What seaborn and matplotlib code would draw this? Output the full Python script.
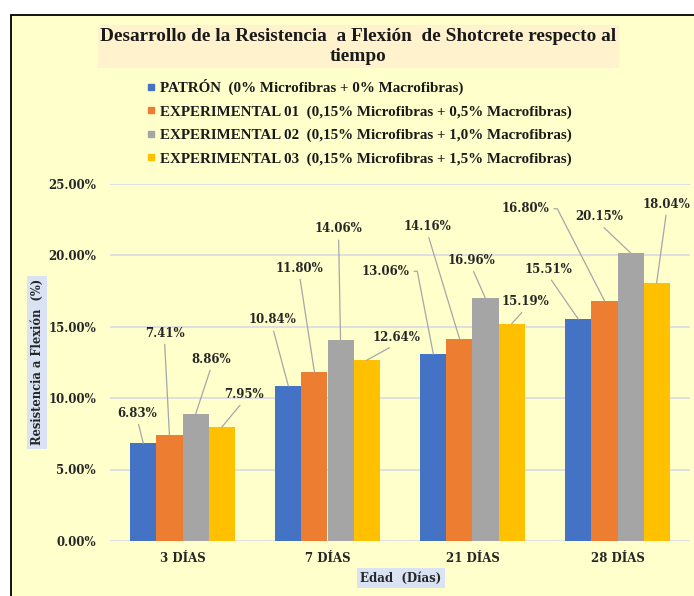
import matplotlib
matplotlib.use("Agg")
import matplotlib.pyplot as plt
from matplotlib.lines import Line2D
from matplotlib.patches import Rectangle
import pandas as pd
import seaborn as sns

# Datos del grafico
edades = ["3 DÍAS", "7 DÍAS", "21 DÍAS", "28 DÍAS"]
series = [
    "PATRÓN  (0% Microfibras + 0% Macrofibras)",
    "EXPERIMENTAL 01  (0,15% Microfibras + 0,5% Macrofibras)",
    "EXPERIMENTAL 02  (0,15% Microfibras + 1,0% Macrofibras)",
    "EXPERIMENTAL 03  (0,15% Microfibras + 1,5% Macrofibras)",
]
patron = [6.83, 10.84, 13.06, 15.51]
exp01 = [7.41, 11.80, 14.16, 16.80]
exp02 = [8.86, 14.06, 16.96, 20.15]
exp03 = [7.95, 12.64, 15.19, 18.04]
y_ticks = [0, 5, 10, 15, 20, 25]

colores = ["#4472C4", "#ED7D31", "#A5A5A5", "#FFC000"]

# posicion de las etiquetas (pixeles desde el tope de la barra)
offsets = [
    [(-6, 30), (-16, 66), (-48, 83), (-30, 50)],
    [(-5, 102), (-15, 104), (-32, 112), (-79, 92)],
    [(16, 55), (-2, 111), (-14, 38), (-31, 36)],
    [(22, 33), (30, 23), (14, 22), (10, 79)],
]
# etiquetas con conector lateral
lateral = {(0, 2), (1, 3)}

rows = []
for s, vals in zip(series, [patron, exp01, exp02, exp03]):
    for e, v in zip(edades, vals):
        rows.append({"Edad": e, "Serie": s, "Valor": v})
df = pd.DataFrame(rows)

sns.set_style("white")
serif_bold = dict(family="DejaVu Serif", weight="bold")
times_bold = dict(family="Liberation Serif", weight="bold")

W, H = 694, 596
fig = plt.figure(figsize=(W / 100, H / 100), dpi=100)
fig.patch.set_facecolor("white")

# fondo del area del grafico
fig.patches.append(
    Rectangle((10.5 / W, -0.1), 1.2, 1.1 - 15 / H, transform=fig.transFigure,
              facecolor="#FFFFCC", edgecolor="black", lw=1.3, zorder=-5)
)

ax = fig.add_axes([110 / W, 55 / H, 580 / W, 357.5 / H])
ax.set_facecolor("none")

sns.barplot(data=df, x="Edad", y="Valor", hue="Serie", palette=colores,
            width=0.72, saturation=1, errorbar=None, linewidth=0,
            legend=False, ax=ax)

ax.set_ylim(0, 25)
ax.set_xlim(-0.5, 3.5)
ax.set_yticks(y_ticks)
ax.set_yticklabels([f"{t:.2f}%" for t in y_ticks], color="#262626", fontsize=8.5, **serif_bold)
for lab in ax.get_xticklabels():
    lab.set_fontsize(8.5)
    lab.set_fontfamily("DejaVu Serif")
    lab.set_fontweight("bold")
    lab.set_color("#262626")
ax.tick_params(axis="both", length=0)
ax.tick_params(axis="y", pad=10)
ax.tick_params(axis="x", pad=8)
ax.yaxis.grid(True, color="#D9D9E6", lw=1.2)
ax.set_axisbelow(True)
for sp in ax.spines.values():
    sp.set_visible(False)

# etiquetas de datos con lineas guia
for j, cont in enumerate(ax.containers):
    for i, rect in enumerate(cont):
        xc = rect.get_x() + rect.get_width() / 2
        v = rect.get_height()
        rel = (1, 0.5) if (j, i) in lateral else (0.5, 0)
        cs = "arc,angleA=0,armA=8,angleB=0,armB=0,rad=0" if (j, i) in lateral else "arc3"
        ax.annotate(f"{v:.2f}%", xy=(xc, v), xytext=offsets[j][i],
                    textcoords="offset pixels", ha="center", va="center",
                    fontsize=8.5, color="#262626", **serif_bold,
                    arrowprops=dict(arrowstyle="-", color="#A6A6A6", lw=0.9,
                                    shrinkA=1, shrinkB=0, relpos=rel,
                                    connectionstyle=cs))

ax.set_ylabel("Resistencia a Flexión  (%)", fontsize=8.3, color="#262626", **serif_bold,
              va="center", bbox=dict(boxstyle="square,pad=0.3", fc="#DAE3F3", ec="none"))
ax.yaxis.set_label_coords((37 - 110) / 580, 0.5)
ax.set_xlabel("Edad  (Días)", fontsize=8.5, color="#262626", **serif_bold,
              va="center", bbox=dict(boxstyle="square,pad=0.3", fc="#DAE3F3", ec="none"))
ax.xaxis.set_label_coords((401 - 110) / 580, (541 - 578) / 357.5)

# titulo
fig.text(358.5 / W, 1 - 46.5 / H,
         "Desarrollo de la Resistencia  a Flexión  de Shotcrete respecto al\ntiempo",
         ha="center", va="center", multialignment="center", fontsize=13.9,
         color="#1a1a1a", linespacing=1.2, **times_bold,
         bbox=dict(boxstyle="square,pad=0.15", fc="#FFF2CC", ec="none"))

# leyenda
handles = [Line2D([], [], marker="s", ls="none", markersize=5, color=c) for c in colores]
fig.legend(handles, series, loc="upper left", bbox_to_anchor=(139 / W, 1 - 71.5 / H),
           frameon=False, handlelength=0.6, handletextpad=0.3, labelspacing=0.66,
           borderpad=0, prop=dict(size=10.8, **times_bold), labelcolor="#1a1a1a")

fig.savefig("out.png", dpi=100)
